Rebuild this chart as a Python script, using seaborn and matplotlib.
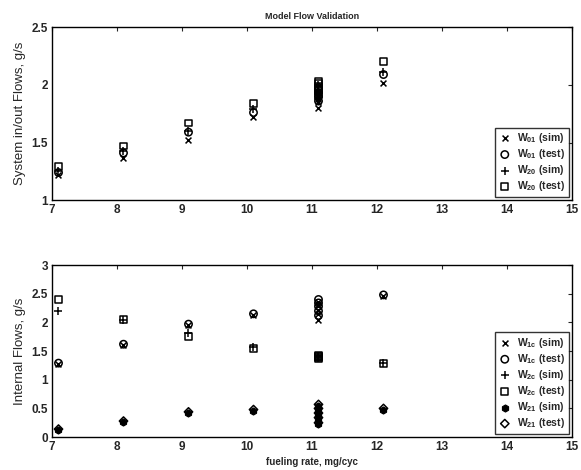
import numpy as np
import pandas as pd
import matplotlib
matplotlib.use('Agg')
import matplotlib.pyplot as plt
import seaborn as sns

# dados (vários ensaios em 11.1 mg/cyc)
fuel = [7.1, 8.1, 9.1, 10.1, 11.1, 11.1, 11.1, 11.1, 11.1, 12.1]

w01_sim = [1.22, 1.37, 1.52, 1.72, 1.80, 1.85, 1.88, 1.90, 1.93, 2.02]
w01_test = [1.24, 1.41, 1.59, 1.76, 1.86, 1.90, 1.93, 1.96, 1.98, 2.09]
w20_sim = [1.25, 1.43, 1.60, 1.79, 1.88, 1.92, 1.95, 1.98, 2.00, 2.11]
w20_test = [1.29, 1.47, 1.67, 1.84, 1.92, 1.96, 1.99, 2.01, 2.03, 2.20]

w1c_sim = [1.27, 1.60, 1.95, 2.13, 2.05, 2.15, 2.22, 2.30, 2.36, 2.46]
w1c_test = [1.29, 1.62, 1.97, 2.15, 2.12, 2.20, 2.28, 2.34, 2.40, 2.48]
w2c_sim = [2.20, 2.04, 1.82, 1.58, 1.38, 1.39, 1.40, 1.41, 1.42, 1.29]
w2c_test = [2.40, 2.05, 1.75, 1.55, 1.37, 1.38, 1.40, 1.41, 1.42, 1.28]
w21_sim = [0.12, 0.26, 0.42, 0.46, 0.22, 0.32, 0.40, 0.48, 0.55, 0.48]
w21_test = [0.14, 0.28, 0.44, 0.48, 0.25, 0.34, 0.42, 0.50, 0.57, 0.50]

sns.set_style('white')
plt.rcParams['font.family'] = ['Liberation Sans', 'DejaVu Sans']
plt.rcParams['mathtext.fontset'] = 'custom'
plt.rcParams['mathtext.bf'] = 'Liberation Sans:bold'
plt.rcParams['mathtext.rm'] = 'Liberation Sans'

fig = plt.figure(figsize=(5.81, 4.70), dpi=100)
ax1 = fig.add_axes([0.0895, 0.574, 0.895, 0.368])
ax2 = fig.add_axes([0.0895, 0.070, 0.895, 0.366])


def desenha(ax, y, marker, label, filled=False, size=22):
    if marker in ('x', '+'):
        sns.scatterplot(x=fuel, y=y, marker=marker, color='black', s=size,
                        linewidth=1.1, label=label, ax=ax)
    elif filled:
        sns.scatterplot(x=fuel, y=y, marker=marker, color='black', s=size,
                        edgecolor='black', linewidth=0.8, label=label, ax=ax)
    else:
        sns.scatterplot(x=fuel, y=y, marker=marker, facecolor='none', s=size,
                        edgecolor='black', linewidth=1.1, label=label, ax=ax)


desenha(ax1, w01_sim, 'x', r'$\mathbf{W_{01}}$ (sim)', size=18)
desenha(ax1, w01_test, 'o', r'$\mathbf{W_{01}}$ (test)', size=28)
desenha(ax1, w20_sim, '+', r'$\mathbf{W_{20}}$ (sim)', size=30)
desenha(ax1, w20_test, 's', r'$\mathbf{W_{20}}$ (test)', size=24)

desenha(ax2, w1c_sim, 'x', r'$\mathbf{W_{1c}}$ (sim)', size=18)
desenha(ax2, w1c_test, 'o', r'$\mathbf{W_{1c}}$ (test)', size=28)
desenha(ax2, w2c_sim, '+', r'$\mathbf{W_{2c}}$ (sim)', size=30)
desenha(ax2, w2c_test, 's', r'$\mathbf{W_{2c}}$ (test)', size=24)
desenha(ax2, w21_sim, 'h', r'$\mathbf{W_{21}}$ (sim)', filled=True, size=26)
desenha(ax2, w21_test, 'D', r'$\mathbf{W_{21}}$ (test)', size=18)

ax1.set_xlim(7, 15)
ax1.set_ylim(1, 2.5)
ax1.set_xticks(range(7, 16))
ax1.set_yticks([1, 1.5, 2, 2.5])
ax1.set_yticklabels(['1', '1.5', '2', '2.5'])
ax1.set_ylabel('System in/out Flows, g/s', fontsize=9.5, labelpad=4)
ax1.set_title('Model Flow Validation', fontsize=6.5, fontweight='bold', pad=6)

ax2.set_xlim(7, 15)
ax2.set_ylim(0, 3)
ax2.set_xticks(range(7, 16))
ax2.set_yticks([0, 0.5, 1, 1.5, 2, 2.5, 3])
ax2.set_yticklabels(['0', '0.5', '1', '1.5', '2', '2.5', '3'])
ax2.set_ylabel('Internal Flows, g/s', fontsize=9.5, labelpad=4)
ax2.set_xlabel('fueling rate, mg/cyc', fontsize=7, fontweight='bold', labelpad=3)

for ax in (ax1, ax2):
    ax.tick_params(direction='in', top=True, right=True, length=3,
                   labelsize=8.5, pad=3)
    for t in ax.get_xticklabels() + ax.get_yticklabels():
        t.set_fontweight('bold')
    for s in ax.spines.values():
        s.set_linewidth(1.0)
        s.set_color('black')
    leg = ax.legend(loc='lower right', fontsize=7.5, frameon=True, fancybox=False,
                    edgecolor='black', handletextpad=0.6, borderaxespad=0.3,
                    labelspacing=0.2, handlelength=1.2, borderpad=0.35)
    leg.get_frame().set_linewidth(1.0)
    for t in leg.get_texts():
        t.set_fontweight('bold')

fig.savefig('out.png', dpi=100)
